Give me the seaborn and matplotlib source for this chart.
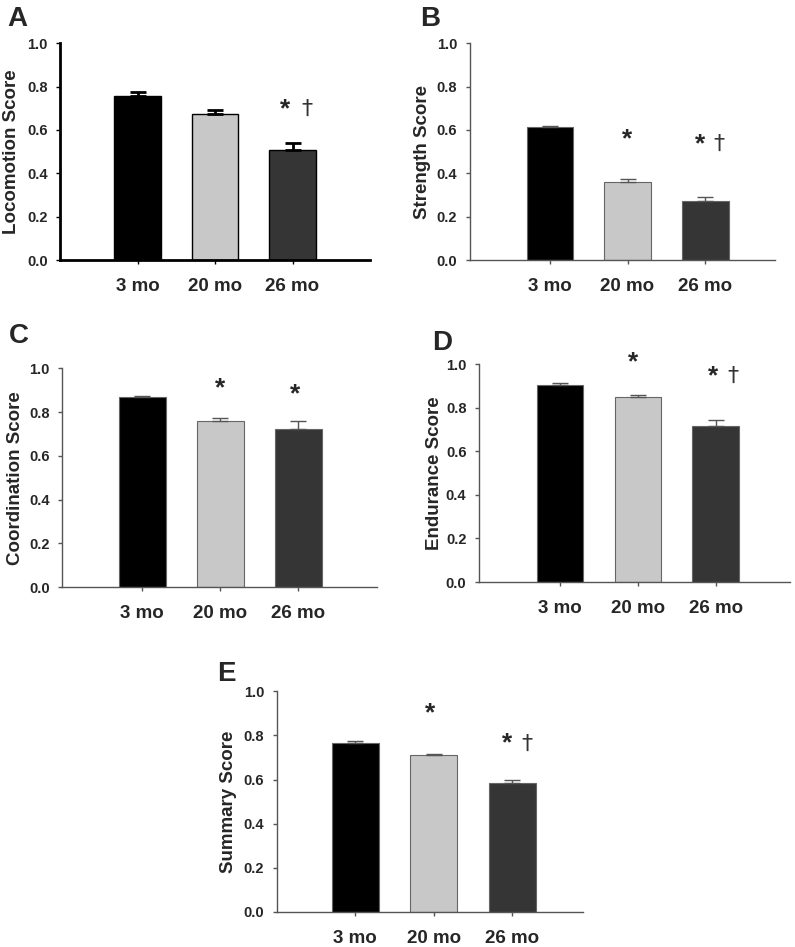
import numpy as np
import pandas as pd
import seaborn as sns
import matplotlib.pyplot as plt

# age groups and bar colours
ages = ['3 mo', '20 mo', '26 mo']
bar_colors = ['#000000', '#c8c8c8', '#353535']

# mean scores and upper error (SEM)
loco_mean = [0.757, 0.672, 0.506]
loco_err = [0.018, 0.018, 0.034]
strength_mean = [0.615, 0.360, 0.270]
strength_err = [0.005, 0.015, 0.020]
coord_mean = [0.868, 0.758, 0.724]
coord_err = [0.006, 0.015, 0.035]
endur_mean = [0.905, 0.848, 0.715]
endur_err = [0.007, 0.012, 0.027]
summary_mean = [0.767, 0.711, 0.586]
summary_err = [0.006, 0.006, 0.014]

y_labels = ['Locomotion Score', 'Strength Score', 'Coordination Score',
            'Endurance Score', 'Summary Score']
panel_letters = ['A', 'B', 'C', 'D', 'E']

# significance marks: (x position, y value, text)
marks_A = [(1.91, 0.695, '*'), (2.18, 0.695, '†')]
marks_B = [(1.0, 0.557, '*'), (1.94, 0.535, '*'), (2.18, 0.535, '†')]
marks_C = [(1.0, 0.91, '*'), (1.96, 0.883, '*')]
marks_D = [(0.94, 1.01, '*'), (1.97, 0.946, '*'), (2.22, 0.946, '†')]
marks_E = [(0.96, 0.90, '*'), (1.94, 0.763, '*'), (2.19, 0.763, '†')]

sns.set_style('white')
plt.rcParams['font.family'] = ['Liberation Sans', 'DejaVu Sans']

fig = plt.figure(figsize=(7.95, 9.47), dpi=100)

# axes rectangles in figure fraction
rects = [
    [0.0755, 0.7254, 0.390, 0.229],
    [0.591, 0.7254, 0.384, 0.229],
    [0.078, 0.380, 0.396, 0.231],
    [0.6025, 0.3854, 0.391, 0.230],
    [0.348, 0.037, 0.385, 0.233],
]
xlims = [(-1.0, 3.0), (-1.03, 2.9), (-1.03, 3.01), (-1.04, 2.95), (-1.0, 2.9)]
ylabel_x = [-0.129, -0.128, -0.12, -0.116, -0.131]
# letter positions (pixels from top-left)
letter_pos = [(7, 6), (420, 6), (9, 323), (432, 330), (217, 661)]

means = [loco_mean, strength_mean, coord_mean, endur_mean, summary_mean]
errs = [loco_err, strength_err, coord_err, endur_err, summary_err]
marks = [marks_A, marks_B, marks_C, marks_D, marks_E]

for i in range(5):
    ax = fig.add_axes(rects[i])
    df = pd.DataFrame({'age': ages, 'score': means[i]})
    thick = (i == 0)
    edge = '#000000' if thick else '#666666'
    sns.barplot(data=df, x='age', y='score', hue='age', palette=bar_colors,
                width=0.6, legend=False, ax=ax, edgecolor=edge,
                linewidth=1.0 if thick else 0.8)
    ax.errorbar(np.arange(3), means[i], yerr=[np.zeros(3), errs[i]],
                fmt='none', ecolor='#000000' if thick else '#555555',
                elinewidth=2.0 if thick else 1.0, capsize=5.5,
                capthick=2.0 if thick else 1.0, zorder=3)
    for (mx, my, mt) in marks[i]:
        if mt == '*':
            ax.text(mx, my, mt, ha='center', va='center', fontsize=19,
                    fontweight='bold', clip_on=False)
        else:
            ax.text(mx, my, mt, ha='center', va='center', fontsize=16,
                    color='#333333', family=['DejaVu Sans'], clip_on=False)
    ax.set_xlim(*xlims[i])
    ax.set_ylim(0, 1.0)
    ax.set_yticks([0.0, 0.2, 0.4, 0.6, 0.8, 1.0])
    ax.set_yticklabels(['0.0', '0.2', '0.4', '0.6', '0.8', '1.0'])
    ax.set_xlabel('')
    ax.set_ylabel(y_labels[i], fontsize=13.5, fontweight='bold')
    ax.yaxis.set_label_coords(ylabel_x[i], 0.5)
    sns.despine(ax=ax)
    spine_c = '#000000' if thick else '#555555'
    for s in ['left', 'bottom']:
        ax.spines[s].set_color(spine_c)
        ax.spines[s].set_linewidth(2.0 if thick else 1.0)
    ax.tick_params(axis='y', which='both', left=True, length=3, width=1,
                   color=spine_c, labelsize=10.5, pad=6)
    ax.tick_params(axis='x', which='both', bottom=True, length=3, width=1,
                   color=spine_c, labelsize=13.5, pad=10)
    for lab in ax.get_xticklabels() + ax.get_yticklabels():
        lab.set_fontweight('bold')
    lx, ly = letter_pos[i]
    fig.text(lx / 795, 1 - ly / 947, panel_letters[i], fontsize=20,
             fontweight='bold', ha='left', va='top')

fig.savefig('out.png', dpi=100)
